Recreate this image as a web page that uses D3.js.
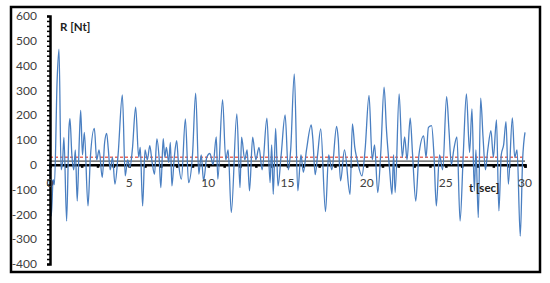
<!DOCTYPE html>
<html>
<head>
<meta charset="utf-8">
<script src="https://cdn.jsdelivr.net/npm/d3@7"></script>
<style>
  body { margin: 0; background: #fff; }
  text { font-family: Lato, "Open Sans", sans-serif; }
</style>
</head>
<body>
<div class="chart"></div>
<script>
// reading of R(t) off the picture: times (sec) and values (Nt) at the turning points
var times = [0.00, 0.08, 0.20, 0.28, 0.45, 0.57, 0.70, 0.80, 0.88, 1.05, 1.20, 1.26, 1.38, 1.50, 1.60, 1.72,
  1.85, 1.94, 2.05, 2.17, 2.40, 2.55, 2.80, 2.95, 3.10, 3.30, 3.45, 3.58, 3.68, 3.80, 3.95, 4.10,
  4.30, 4.57, 4.75, 4.90, 5.05, 5.20, 5.41, 5.60, 5.70, 5.85, 6.00, 6.15, 6.30, 6.45, 6.60, 6.75,
  6.90, 7.00, 7.15, 7.25, 7.35, 7.50, 7.60, 7.70, 7.85, 8.00, 8.10, 8.30, 8.55, 8.75, 9.00, 9.20,
  9.40, 9.55, 9.70, 9.90, 10.1, 10.3, 10.5, 10.6, 10.9, 11.1, 11.25, 11.45, 11.8, 12.0, 12.1, 12.3,
  12.45, 12.6, 12.8, 13.0, 13.2, 13.4, 13.7, 13.9, 14.0, 14.1, 14.25, 14.4, 14.6, 14.85, 15.05, 15.2,
  15.43, 15.65, 15.85, 16.0, 16.2, 16.5, 16.6, 16.75, 16.9, 17.1, 17.4, 17.6, 17.8, 18.1, 18.2, 18.35,
  18.6, 18.95, 19.1, 19.25, 19.4, 19.7, 19.9, 20.15, 20.35, 20.5, 20.7, 20.9, 21.1, 21.25, 21.45, 21.6,
  21.7, 21.8, 22.05, 22.25, 22.4, 22.55, 22.75, 22.9, 23.1, 23.3, 23.6, 23.75, 23.9, 24.1, 24.25, 24.4,
  24.6, 24.8, 25.05, 25.2, 25.35, 25.5, 25.7, 25.9, 26.1, 26.3, 26.5, 26.65, 26.8, 26.9, 27.05, 27.2,
  27.35, 27.5, 27.65, 27.85, 28.0, 28.2, 28.35, 28.5, 28.65, 28.8, 28.95, 29.2, 29.35, 29.5, 29.7, 29.85, 30.0];
var values = [10, -207, -60, -80, 340, 466, -20, 20, 110, -227, 150, 186, 40, -20, 60, -146,
  100, 219, 40, 131, -166, 30, 147, 20, 60, -51, 90, 127, 65, -20, 30, -78,
  40, 282, -45, 20, -10, 60, 232, 30, 70, -166, 60, 20, 77, 10, -38, 104,
  20, -92, 105, 30, 70, 10, 90, -85, 30, 97, 20, -58, 185, -72, 40, 289,
  -38, 40, -65, 30, 46, 0, 113, -58, 263, 20, 60, -193, 205, -92, 111, 20,
  60, -105, 111, 20, 70, -20, 188, -72, 80, -119, 147, -85, 40, 201, -20, 60,
  367, -105, 40, -30, 60, 161, 104, -40, 40, 145, -189, 40, -20, 155, 108, -65,
  60, -119, 165, 70, 20, -45, 60, 280, 20, 80, -112, 60, 313, 142, -20, -119,
  40, -112, 286, 30, 113, 20, 188, 40, -146, 40, 117, 30, 151, 158, 40, -166,
  40, -20, 275, 138, 0, 60, 113, -227, 40, 286, 50, 225, -105, 60, -213, 269,
  111, -20, 60, 138, 30, 181, -186, 40, 80, 174, -78, 189, 30, 60, -288, 20, 131];

var yTicks = [600, 500, 400, 300, 200, 100, 0, -100, -200, -300, -400];
var xTicks = [0, 5, 10, 15, 20, 25, 30];
var meanLevel = 30;   // red dashed line
var baseLevel = 15;   // thin black line

var svgWidth = 550;
var svgHeight = 283;

var svg = d3.select(".chart")
  .append("svg")
  .attr("width", svgWidth)
  .attr("height", svgHeight);

// frame
svg.append("rect")
  .attr("x", 11).attr("y", 7)
  .attr("width", 529).attr("height", 265)
  .attr("fill", "#fff")
  .attr("stroke", "#000")
  .attr("stroke-width", 2.5);

var xScale = d3.scaleLinear().domain([0, 30]).range([50, 525]);
var yScale = d3.scaleLinear().domain([-400, 600]).range([264, 16]);

var data = times.map(function(t, i) { return { t: t, v: values[i] }; });

// red dashed and thin black reference lines
svg.append("line")
  .attr("x1", xScale(0)).attr("x2", xScale(30))
  .attr("y1", yScale(meanLevel)).attr("y2", yScale(meanLevel))
  .attr("stroke", "#e8695f").attr("stroke-width", 1.5)
  .attr("stroke-dasharray", "3,2");

svg.append("line")
  .attr("x1", xScale(0)).attr("x2", xScale(30))
  .attr("y1", yScale(baseLevel)).attr("y2", yScale(baseLevel))
  .attr("stroke", "#222").attr("stroke-width", 1);

// x axis (at zero)
var bottomAxis = d3.axisBottom(xScale)
  .tickValues(d3.range(0, 31, 1))
  .tickSize(3)
  .tickFormat("");
var xAxis = svg.append("g")
  .attr("transform", `translate(0, ${yScale(0)})`)
  .call(bottomAxis);
xAxis.select(".domain").attr("stroke", "#000").attr("stroke-width", 2.5);
xAxis.selectAll(".tick line").attr("stroke", "#000").attr("stroke-width", 2.5);

// the signal
var line = d3.line()
  .x(d => xScale(d.t))
  .y(d => yScale(d.v))
  .curve(d3.curveMonotoneX);

svg.append("path")
  .datum(data)
  .attr("d", line)
  .attr("fill", "none")
  .attr("stroke", "#4a7fc1")
  .attr("stroke-width", 1.3);

// y axis
var leftMinor = d3.axisLeft(yScale)
  .tickValues(d3.range(-400, 601, 20))
  .tickSize(3)
  .tickFormat("");
var yAxis = svg.append("g")
  .attr("transform", `translate(${xScale(0)}, 0)`)
  .call(leftMinor);
yAxis.select(".domain").attr("stroke", "#000").attr("stroke-width", 2.5);
yAxis.selectAll(".tick line").attr("stroke", "#000").attr("stroke-width", 1.5);

// y tick labels
svg.selectAll(".ylab")
  .data(yTicks)
  .enter()
  .append("text")
  .attr("class", "ylab")
  .attr("x", 37)
  .attr("y", d => yScale(d))
  .attr("dy", "0.35em")
  .attr("text-anchor", "end")
  .attr("font-size", "12px")
  .attr("fill", "#404040")
  .text(d => d);

// x tick labels
svg.selectAll(".xlab")
  .data(xTicks)
  .enter()
  .append("text")
  .attr("class", "xlab")
  .attr("x", d => xScale(d))
  .attr("y", 183)
  .attr("dy", "0.35em")
  .attr("text-anchor", "middle")
  .attr("font-size", "12px")
  .attr("fill", "#404040")
  .text(d => d);

// axis titles
svg.append("text")
  .attr("x", 60)
  .attr("y", 31)
  .attr("font-size", "11.5px")
  .attr("font-weight", "bold")
  .attr("fill", "#222")
  .text("R [Nt]");

svg.append("text")
  .attr("x", 469)
  .attr("y", 192)
  .attr("font-size", "11.5px")
  .attr("font-weight", "bold")
  .attr("fill", "#222")
  .text("t [sec]");
</script>
</body>
</html>
